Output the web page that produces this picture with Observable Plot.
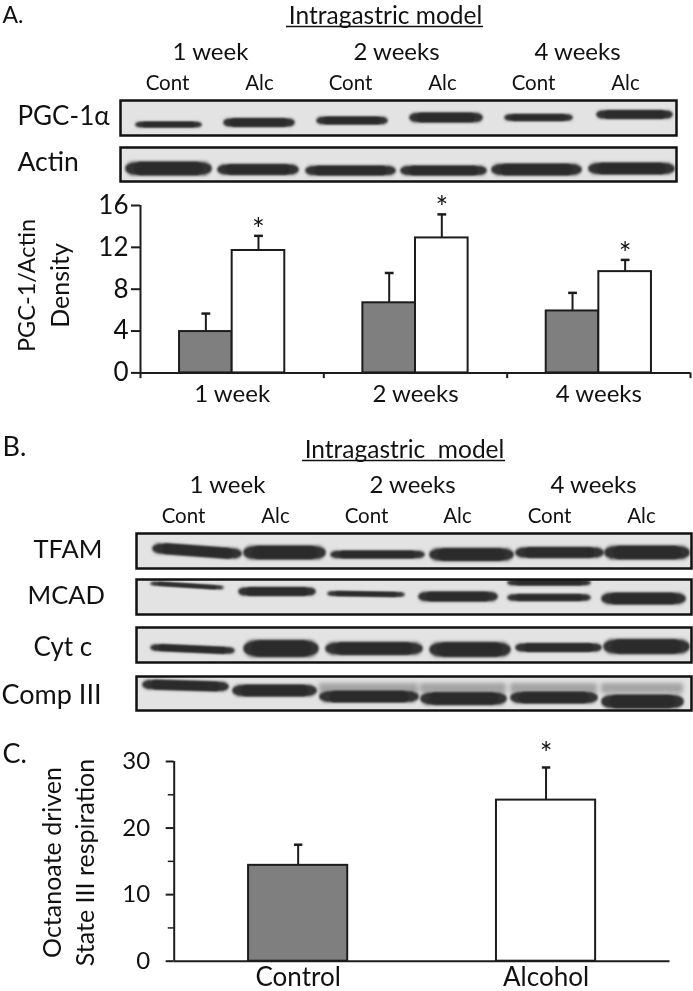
<!DOCTYPE html>
<html><head><meta charset="utf-8">
<script src="https://cdn.jsdelivr.net/npm/d3@7"></script>
<script src="https://cdn.jsdelivr.net/npm/@observablehq/plot@0.6"></script>
<style>
html,body{margin:0;padding:0;background:#fff}
#page{position:relative;width:693px;height:991px;overflow:hidden;filter:blur(.45px)}
svg{position:absolute;background:none!important}
</style></head><body><div id="page"></div>
<script>
// --- Panel A bars
const weeks = ["1 week", "2 weeks", "4 weeks"];
const pgcControl = [3.95, 6.7, 5.92];
const pgcControlTop = [5.67, 9.55, 7.65];
const pgcAlcohol = [11.7, 12.9, 9.68];
const pgcAlcoholTop = [13.1, 15.15, 10.8];
// --- Panel C bars
const groups = ["Control", "Alcohol"];
const octanoate = [14.4, 24.2];
const octanoateTop = [17.5, 29.1];
// --- Text
const lanes = ["Cont", "Alc", "Cont", "Alc", "Cont", "Alc"];
// --- Blots: band start/end along membrane, migration left/right, band thickness
const pgcStart = [15,103,196,289,384,476], pgcEnd = [81,174,267,362,452,552];
const pgcMig = [24,22,20,17,17,14], pgcThick = [5,8,7,9,6,8];
const actinStart = [5,97,185,280,371,468], actinEnd = [91,178,275,366,461,554];
const actinMig = [21,22,23,23,22,21], actinThick = [13,10,9,9,11,11];
const tfamStart = [16,107,194,293,379,468], tfamEnd = [105,189,288,377,467,553];
const tfamMigL = [15,19,21,21,19,19], tfamMigR = [20,19,21,21,19,19], tfamThick = [10,13,7,12,10,13];
const mcadStart = [14,102,191,282,371,465,371], mcadEnd = [87,179,268,361,454,549,454];
const mcadMigL = [4,12,14,17,18,19,3], mcadMigR = [8,12,15,17,18,19,3], mcadThick = [3,8,4,9,6,11,5];
const cytStart = [14,107,189,293,379,467], cytEnd = [98,182,286,374,465,553];
const cytMigL = [20,21,21,22,20,19], cytMigR = [23,21,21,22,20,19], cytThick = [6,16,12,14,8,14];
const compStart = [6,96,183,284,374,465], compEnd = [92,180,282,370,461,547];
const compMigL = [8,14,20,22,21,25], compMigR = [10,14,20,22,21,25], compThick = [9,11,11,12,11,13];
const compSmearStart = [183,284,374,465], compSmearEnd = [282,370,461,547];

const page = document.getElementById("page");
const FONT = "Lato, 'Liberation Serif', sans-serif";
const INK = "#1c1c1c";
function add(el, left, top){ el.style.left = left+"px"; el.style.top = top+"px"; page.appendChild(el); }

function blot(left, top, w, h, starts, ends, migL, migR, thick, smear){
  const m = 2;
  const bands = starts.map((s,i)=>({s, e:ends[i], a:migL[i], b:migR[i], t:thick[i]}));
  const layer = (inset, wid, colour, blur)=>Plot.link(bands,{
    x1:d=>d.s+d.t*wid/2+inset*(d.e-d.s), x2:d=>d.e-d.t*wid/2-inset*(d.e-d.s),
    y1:"a", y2:"b", strokeWidth:d=>d.t*wid, stroke:colour, strokeLinecap:"round",
    imageFilter:`blur(${blur}px)`, clip:"frame"});
  const marks = [Plot.frame({fill:"#e3e3e3"})];
  if (smear) marks.push(Plot.rect(smear,{x1:"s",x2:"e",y1:()=>7,y2:()=>17,fill:"#a4a4a4",imageFilter:"blur(2px)",clip:"frame"}));
  marks.push(
    layer(0, 1.15, "#8a8a8a", 1.6),
    layer(0, .6, "#333", 1),
    layer(.03, .9, "#333", 1),
    layer(.1, 1, "#2b2b2b", .8),
    Plot.frame({stroke:"#111",strokeWidth:2.5})
  );
  add(Plot.plot({width:w+2*m,height:h+2*m,margin:m,
    x:{domain:[0,w],axis:null}, y:{domain:[0,h],reverse:true,axis:null}, marks}), left-m, top-m);
}
blot(120,100,556,35,pgcStart,pgcEnd,pgcMig,pgcMig,pgcThick);
blot(120,147,556,34,actinStart,actinEnd,actinMig,actinMig,actinThick);
blot(136,533,555,35,tfamStart,tfamEnd,tfamMigL,tfamMigR,tfamThick);
blot(136,579,555,35,mcadStart,mcadEnd,mcadMigL,mcadMigR,mcadThick);
blot(136,627,555,35,cytStart,cytEnd,cytMigL,cytMigR,cytThick);
blot(136,676,555,34,compStart,compEnd,compMigL,compMigR,compThick,
  compSmearStart.map((s,i)=>({s,e:compSmearEnd[i]})));

function errorMarks(rows, cap){
  return [
    Plot.ruleX(rows,{x:"mid",y1:"v",y2:"top",stroke:INK,strokeWidth:2}),
    Plot.link(rows,{x1:d=>d.mid-cap,x2:d=>d.mid+cap,y1:"top",y2:"top",stroke:INK,strokeWidth:2.5}),
    Plot.rectY(rows,{x1:"x1",x2:"x2",y1:()=>0,y2:"v",fill:"c",stroke:INK,strokeWidth:2}),
    Plot.ruleX([0],{stroke:INK,strokeWidth:2}),
    Plot.ruleY([0],{stroke:INK,strokeWidth:2})
  ];
}

// Panel A chart
(function(){
  const half = 0.287, cap = 0.024;
  const rows = [];
  weeks.forEach((w,i)=>{
    rows.push({x1:i+.5-half,x2:i+.5,v:pgcControl[i],top:pgcControlTop[i],c:"#7f7f7f",star:false});
    rows.push({x1:i+.5,x2:i+.5+half,v:pgcAlcohol[i],top:pgcAlcoholTop[i],c:"#fff",star:true});
  });
  rows.forEach(r=>r.mid=(r.x1+r.x2)/2);
  const top=180,h=235;
  add(Plot.plot({width:693,height:h,marginLeft:140,marginRight:3,marginTop:205-top,marginBottom:h-(372.4-top),
    style:{fontFamily:FONT,color:"#111"},
    x:{domain:[0,3],axis:null}, y:{domain:[0,16],axis:null},
    marks:[
      ...errorMarks(rows,cap),
      Plot.axisY({ticks:[0,4,8,12,16],tickSize:9,tickPadding:3,fontSize:26,label:null,stroke:INK,strokeWidth:2,anchor:"left"}),
      Plot.ruleX([0,1,2,3],{y1:0,y2:-.55,stroke:INK,strokeWidth:2}),
      Plot.axisX({ticks:[.5,1.5,2.5],tickSize:0,tickPadding:12,tickFormat:d=>weeks[d-.5],label:null,fontSize:24,anchor:"bottom"}),
      Plot.text(rows.filter(r=>r.star),{x:"mid",y:"top",text:()=>"*",fontSize:30,dy:4,lineAnchor:"bottom",fill:"#111"})
    ]}),0,top);
})();

// Panel C chart
(function(){
  const half=.2, cap=.017;
  const rows=groups.map((g,i)=>({x1:i+.5-half,x2:i+.5+half,mid:i+.5,v:octanoate[i],top:octanoateTop[i],c:i?"#fff":"#7f7f7f",star:i==1}));
  const top=720,h=271;
  add(Plot.plot({width:693,height:h,marginLeft:173.7,marginRight:23.5,marginTop:761-top,marginBottom:h-(960.7-top),
    style:{fontFamily:FONT,color:"#111"},
    x:{domain:[0,2],axis:null}, y:{domain:[0,30],axis:null},
    marks:[
      ...errorMarks(rows,cap),
      Plot.ruleY([5,15,25],{x1:-.024,x2:0,stroke:INK,strokeWidth:1.5}),
      Plot.axisY({ticks:[0,10,20,30],tickSize:8,tickPadding:16,fontSize:24,label:null,stroke:INK,strokeWidth:2,anchor:"left"}),
      Plot.axisX({ticks:[.5,1.5],tickSize:0,tickPadding:6,tickFormat:d=>groups[d-.5],label:null,fontSize:26,anchor:"bottom"}),
      Plot.text(rows.filter(r=>r.star),{x:"mid",y:"top",text:()=>"*",fontSize:30,dy:-3,lineAnchor:"bottom",fill:"#111"})
    ]}),0,top);
})();

// Text overlay
const T=[], L=(t,x,y,s,a="start",r=0)=>T.push({t,x,y,s,a,r});
L("A.",2,22,23);
L("Intragastric model",385,23,24.5,"middle");
[210,396,577].forEach((x,i)=>L(weeks[i],x,59,24,"middle"));
[167,259,350,442,533,625].forEach((x,i)=>L(lanes[i],x,89,20.5,"middle"));
L("PGC-1α",17,124,26);
L("Actin",17,170,26.5);
L("PGC-1/Actin",27,285,23.5,"middle",-90);
L("Density",60,285,25,"middle",-90);
L("B.",2,455,27);
L("Intragastric  model",404,457,24.5,"middle");
[227,412,593].forEach((x,i)=>L(weeks[i],x,492,24,"middle"));
[183,275,366,457,549,641].forEach((x,i)=>L(lanes[i],x,522,20.5,"middle"));
L("TFAM",33,557,25.5);
L("MCAD",27,603,25.5);
L("Cyt c",33,655,26);
L("Comp III",1,703,27);
L("C.",2,762,27);
L("Octanoate driven",52,862,25,"middle",-90);
L("State III respiration",85,862,25,"middle",-90);
const under=[{x1:286,x2:483,y:26},{x1:302,x2:505,y:460}];
const texts=T.map(d=>Plot.text([d],{x:"x",y:"y",text:"t",fontSize:d.s,textAnchor:d.a,rotate:d.r,lineAnchor:d.r?"middle":"bottom",fill:"#111"}));
add(Plot.plot({width:693,height:991,margin:0,style:{fontFamily:FONT},
  x:{type:"identity",axis:null},y:{type:"identity",axis:null},
  marks:[...texts,Plot.ruleY(under,{x1:"x1",x2:"x2",y:"y",stroke:"#111",strokeWidth:1.5})]}),0,0);
</script></body></html>
